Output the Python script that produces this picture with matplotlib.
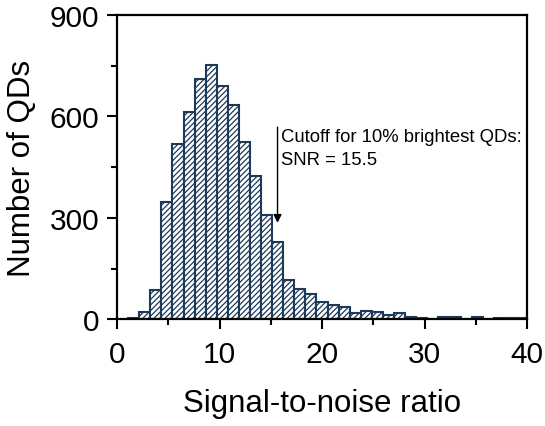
import numpy as np
import matplotlib.pyplot as plt
from matplotlib.ticker import MultipleLocator

plt.rcParams['font.family'] = ['Liberation Sans', 'DejaVu Sans']
plt.rcParams['hatch.linewidth'] = 0.9

# histogram of SNR values (36 bins from ~1.07 to 40)
bin_lo, bin_hi, n_bins = 1.07, 40.0, 36
counts = [5, 20, 87, 347, 518, 614, 710, 751, 690, 633,
          523, 424, 308, 229, 115, 89, 74, 51, 41, 35,
          17, 23, 20, 12, 17, 7, 5, 2, 7, 7,
          2, 7, 1, 4, 4, 4]
cutoff = 15.5
note = 'Cutoff for 10% brightest QDs:\nSNR = 15.5'

edges = np.linspace(bin_lo, bin_hi, n_bins + 1)
navy = '#1e3a5a'

fig = plt.figure(figsize=(5.45, 4.27), dpi=100)
ax = fig.add_axes([0.215, 0.25, 0.752, 0.713])

ax.bar(edges[:-1], counts, width=np.diff(edges), align='edge',
       facecolor='white', edgecolor=navy, linewidth=1.5, hatch='//////')

ax.annotate('', xy=(cutoff + 0.15, 285), xytext=(cutoff + 0.15, 568),
            arrowprops=dict(arrowstyle='-|>', color='black', lw=1.0,
                            mutation_scale=12, shrinkA=0, shrinkB=0))
ax.text(cutoff + 0.5, 566, note, fontsize=13.3, va='top', ha='left',
        linespacing=1.45)

ax.set_xlim(0, 40)
ax.set_ylim(0, 900)
ax.xaxis.set_major_locator(MultipleLocator(10))
ax.xaxis.set_minor_locator(MultipleLocator(5))
ax.yaxis.set_major_locator(MultipleLocator(300))
ax.yaxis.set_minor_locator(MultipleLocator(150))
ax.tick_params(which='major', direction='out', length=7, width=1.5,
               labelsize=21.5)
ax.tick_params(axis='x', which='major', pad=8)
ax.tick_params(axis='y', which='major', pad=6)
ax.tick_params(which='minor', direction='out', length=4, width=1.5)
for s in ax.spines.values():
    s.set_linewidth(1.6)

ax.set_xlabel('Signal-to-noise ratio', fontsize=22.5, labelpad=14)
ax.set_ylabel('Number of QDs', fontsize=22.5, labelpad=9)

fig.savefig('out.png', dpi=100)
